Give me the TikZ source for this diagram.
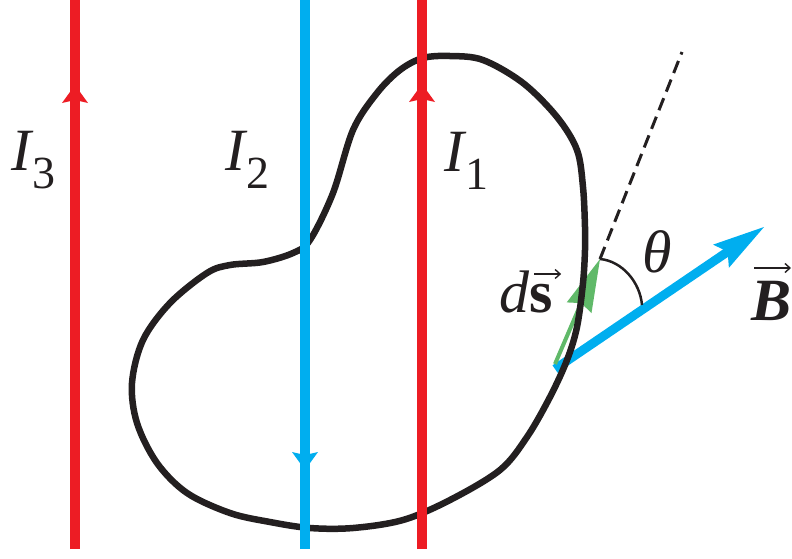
\documentclass[tikz,border=0pt]{standalone}
\usepackage{fontspec}
\setmainfont{Liberation Serif}
\usetikzlibrary{arrows.meta}
\definecolor{wirered}{RGB}{237,28,36}
\definecolor{wireblue}{RGB}{0,174,239}
\definecolor{dsgreen}{RGB}{96,185,105}
\definecolor{loopblack}{RGB}{35,31,32}
\newcommand{\Isub}[1]{\textit{I}\kern-1pt\raisebox{-18pt}{\fontsize{46}{46}\selectfont #1}}
% arrow over a letter: #1 raise, #2 shift, #3 width, #4 letter
\newcommand{\vecover}[4]{\rlap{\hspace{#2}\raisebox{#1}{\tikz[baseline=0pt]\draw[draw=loopblack,line width=1.6pt,-{Straight Barb[length=5pt,width=9pt,line width=1.4pt]}] (0pt,0pt) -- (#3,0pt);}}#4}
\begin{document}
\begin{tikzpicture}[x=1pt,y=-1pt,
  wire/.style={line width=9.5pt},
  curve/.style={loopblack,line width=6.5pt},
  lbl/.style={anchor=base west,inner sep=0pt,text=loopblack,font=\fontsize{60}{60}\selectfont}]
\useasboundingbox (0,0) rectangle (792,558);

% named points
\coordinate (w3top) at (75,0);   \coordinate (w3bot) at (75,549);  \coordinate (w3tip) at (75,85);
\coordinate (w2top) at (305,0);  \coordinate (w2bot) at (305,549); \coordinate (w2tip) at (305,470);
\coordinate (w1top) at (422,0);  \coordinate (w1bot) at (422,549); \coordinate (w1tip) at (422,84);
\coordinate (Bstart) at (555,369); \coordinate (Btip) at (764,227);
\coordinate (dsstart) at (555,364); \coordinate (dstip) at (600,259);
\coordinate (dashend) at (682,52);
\coordinate (arcend) at (642,305);

% B vector
\draw[wireblue,line width=9pt,shorten >=40pt] (Bstart) -- (Btip);
\fill[wireblue] (Btip) -- ++(-50.9,17.6) -- ++(14.5,7.1) -- ++(1.3,16.1) -- cycle;
% ds vector
\draw[dsgreen,line width=4pt,shorten >=44pt] (dsstart) -- (dstip);
\fill[dsgreen] (dstip) -- ++(-33.3,43.4) -- ++(14.4,0.7) -- ++(10.4,9.9) -- cycle;

% loop
\draw[curve] plot[smooth cycle,tension=0.55] coordinates {
 (270,522) (310,528) (353,528) (403,520) (450,500) (500,470) (527,437) (550,397)
 (567,360) (577,327) (583,283) (585,250) (585,227) (583,187) (577,150) (557,117)
 (523,83) (483,60) (450,56) (423,58) (400,70) (377,93) (353,130) (333,193)
 (310,240) (293,253) (263,262) (230,265) (207,273) (170,303) (143,340) (132,383)
 (137,423) (157,463) (187,493) (230,513)};

% dashed line and angle arc
\draw[loopblack,line width=3pt,dash pattern=on 13pt off 7pt] (dstip) -- (dashend);
\draw[loopblack,line width=2.5pt] (dstip) .. controls (622,261) and (640,282) .. (arcend);

% wires
\draw[wire,wirered] (w3bot) -- (w3top);
\fill[wirered] (w3tip) -- ++(-13,18) -- ++(13,-3) -- ++(13,3) -- cycle;
\draw[wire,wireblue] (w2bot) -- (w2top);
\fill[wireblue] (w2tip) -- ++(-13,-18) -- ++(13,3) -- ++(13,-3) -- cycle;
\draw[wire,wirered] (w1bot) -- (w1top);
\fill[wirered] (w1tip) -- ++(-13,18) -- ++(13,-3) -- ++(13,3) -- cycle;

% labels
\node[lbl] (L3) at (11,170) {\Isub{3}};
\node[lbl] (L2) at (225,170) {\Isub{2}};
\node[lbl] (L1) at (444,171) {\Isub{1}};
\node[lbl] (Lds) at (499,312) {\textit{d}\vecover{38pt}{4pt}{27pt}{\textbf{s}}};
\node[lbl] (Lth) at (642,272) {\textit{θ}};
\node[lbl] (LB) at (751,320) {\vecover{52pt}{2pt}{37pt}{\textbf{\textit{B}}}};
\end{tikzpicture}
\end{document}
